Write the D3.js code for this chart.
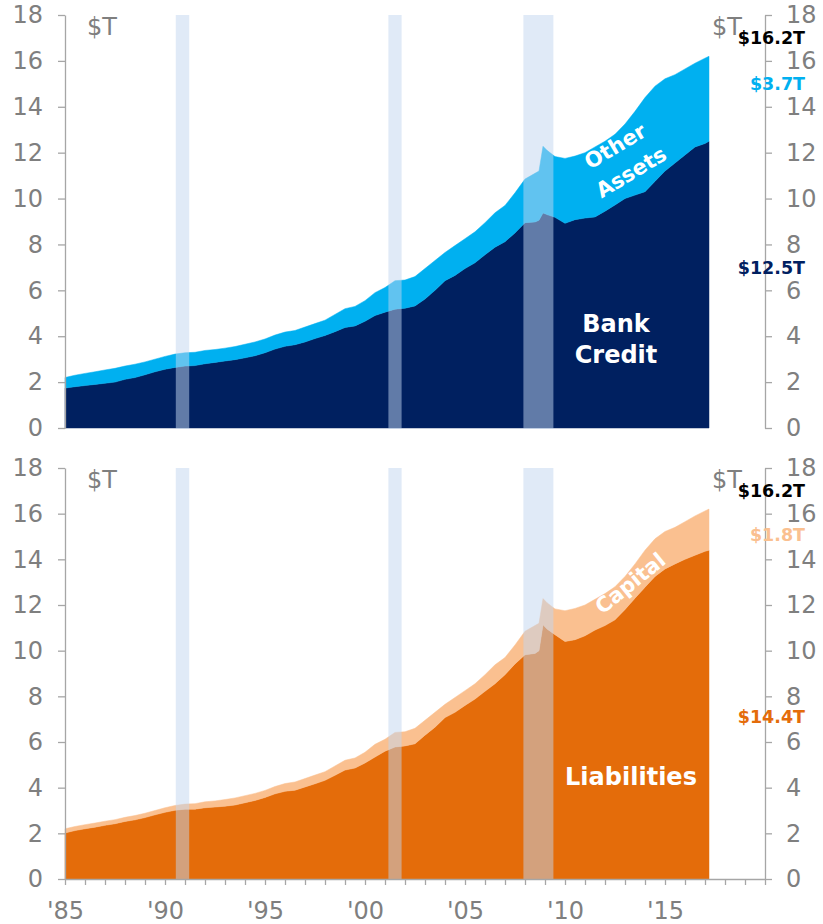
<!DOCTYPE html>
<html>
<head>
<meta charset="utf-8">
<script src="https://cdn.jsdelivr.net/npm/d3@7/dist/d3.min.js"></script>
<style>
  body { margin: 0; background: #fff; }
  svg { display: block; }
  text { font-family: "DejaVu Sans", Verdana, sans-serif; }
</style>
</head>
<body>
<svg id="chart" width="823" height="924"></svg>
<script>
// Commercial bank balance sheet, $ trillions (fractional years)
const dates = [
  1985.0, 1985.5, 1986.0, 1986.5, 1987.0, 1987.5, 1988.0, 1988.5, 1989.0, 1989.5,
  1990.0, 1990.5, 1991.0, 1991.5, 1992.0, 1992.5, 1993.0, 1993.5, 1994.0, 1994.5,
  1995.0, 1995.5, 1996.0, 1996.5, 1997.0, 1997.5, 1998.0, 1998.5, 1999.0, 1999.5,
  2000.0, 2000.5, 2001.0, 2001.5, 2002.0, 2002.5, 2003.0, 2003.5, 2004.0, 2004.5,
  2005.0, 2005.5, 2006.0, 2006.5, 2007.0, 2007.5, 2008.0, 2008.5, 2008.7, 2008.9,
  2009.1, 2009.5, 2010.0, 2010.5, 2011.0, 2011.5, 2012.0, 2012.5, 2013.0, 2013.5,
  2014.0, 2014.5, 2015.0, 2015.5, 2016.0, 2016.5, 2017.0, 2017.2
];

// Assets
const bankCredit = [
  1.74, 1.80, 1.85, 1.90, 1.95, 2.00, 2.12, 2.20, 2.32, 2.45,
  2.56, 2.64, 2.70, 2.72, 2.80, 2.86, 2.92, 2.98, 3.06, 3.15,
  3.28, 3.44, 3.56, 3.63, 3.75, 3.90, 4.03, 4.20, 4.38, 4.45,
  4.65, 4.90, 5.05, 5.18, 5.22, 5.32, 5.62, 6.00, 6.42, 6.65,
  6.95, 7.20, 7.55, 7.88, 8.12, 8.50, 8.95, 8.98, 9.05, 9.37,
  9.30, 9.18, 8.92, 9.08, 9.15, 9.20, 9.45, 9.72, 10.00, 10.15,
  10.30, 10.75, 11.20, 11.55, 11.90, 12.25, 12.40, 12.50
];
const otherAssets = [
  0.46, 0.50, 0.53, 0.55, 0.58, 0.60, 0.58, 0.58, 0.56, 0.55,
  0.56, 0.58, 0.58, 0.58, 0.58, 0.56, 0.56, 0.57, 0.59, 0.60,
  0.60, 0.61, 0.62, 0.62, 0.65, 0.65, 0.67, 0.75, 0.82, 0.85,
  0.90, 1.00, 1.07, 1.24, 1.23, 1.28, 1.33, 1.30, 1.23, 1.30,
  1.30, 1.35, 1.40, 1.50, 1.58, 1.75, 1.90, 2.12, 2.15, 2.91,
  2.80, 2.65, 2.83, 2.77, 2.85, 3.05, 3.05, 3.08, 3.25, 3.65,
  4.10, 4.15, 4.02, 3.85, 3.75, 3.65, 3.72, 3.70
];

// Liabilities and capital
const liabilities = [
  2.02, 2.12, 2.20, 2.27, 2.35, 2.42, 2.52, 2.59, 2.69, 2.81,
  2.92, 3.01, 3.06, 3.06, 3.12, 3.15, 3.19, 3.24, 3.34, 3.44,
  3.57, 3.73, 3.84, 3.89, 4.03, 4.17, 4.32, 4.54, 4.77, 4.86,
  5.08, 5.34, 5.60, 5.78, 5.83, 5.92, 6.30, 6.65, 7.07, 7.30,
  7.60, 7.88, 8.22, 8.55, 8.95, 9.42, 9.82, 9.88, 10.00, 11.13,
  10.95, 10.70, 10.40, 10.48, 10.65, 10.90, 11.10, 11.35, 11.80, 12.30,
  12.78, 13.25, 13.58, 13.80, 14.00, 14.18, 14.35, 14.40
];
const capital = [
  0.18, 0.18, 0.18, 0.18, 0.18, 0.18, 0.18, 0.19, 0.19, 0.19,
  0.20, 0.21, 0.22, 0.24, 0.26, 0.27, 0.29, 0.31, 0.31, 0.31,
  0.31, 0.32, 0.34, 0.36, 0.37, 0.38, 0.38, 0.41, 0.43, 0.44,
  0.47, 0.56, 0.52, 0.64, 0.62, 0.68, 0.65, 0.65, 0.58, 0.65,
  0.65, 0.67, 0.73, 0.83, 0.75, 0.83, 1.03, 1.22, 1.20, 1.15,
  1.15, 1.13, 1.35, 1.37, 1.35, 1.35, 1.40, 1.45, 1.45, 1.50,
  1.62, 1.65, 1.64, 1.60, 1.65, 1.72, 1.77, 1.80
];

// NBER recessions [start, end]
const recessions = [[1990.54, 1991.21], [2001.17, 2001.83], [2007.92, 2009.42]];

const yTickValues = [0, 2, 4, 6, 8, 10, 12, 14, 16, 18];
const xTickYears = [1985, 1990, 1995, 2000, 2005, 2010, 2015];
const xTickLabels = ["'85", "'90", "'95", "'00", "'05", "'10", "'15"];

const svg = d3.select("#chart");
const AXIS = "#a6a6a6", TEXT = "#7f7f7f";
const FONT = '"DejaVu Sans", Verdana, sans-serif';

const x = d3.scaleLinear().domain([1985, 2020]).range([65, 765]);

const fmt = v => "$" + d3.format(".1f")(v) + "T";

const panels = [
  {
    range: [428, 15],
    keys: ["bankCredit", "otherAssets"],
    values: { bankCredit, otherAssets },
    colors: ["#002060", "#00b0f0"],
    labelColors: ["#002060", "#00b0f0"],
    labelLevels: [7, 15],
    inner: [
      { lines: ["Bank", "Credit"], cx: 616, baseline: [331.5, 362.5], size: 24 },
      { lines: ["Other", "Assets"], rot: true, centers: [[615, 146], [631, 172]], angle: -31, size: 21 }
    ]
  },
  {
    range: [879, 468],
    keys: ["liabilities", "capital"],
    values: { liabilities, capital },
    colors: ["#e46c0a", "#fac090"],
    labelColors: ["#e46c0a", "#fac090"],
    labelLevels: [7.1, 15.1],
    inner: [
      { lines: ["Liabilities"], cx: 631, baseline: [785], size: 24 },
      { lines: ["Capital"], rot: true, centers: [[630, 583]], angle: -39, size: 21 }
    ],
    xAxis: true
  }
];

panels.forEach(p => {
  const y = d3.scaleLinear().domain([0, 18]).range(p.range);
  const g = svg.append("g");

  const rows = dates.map((d, i) => {
    const r = { date: d };
    p.keys.forEach(k => r[k] = p.values[k][i]);
    return r;
  });
  const stacked = d3.stack().keys(p.keys)(rows);

  const area = d3.area()
    .x(d => x(d.data.date))
    .y0(d => y(d[0]))
    .y1(d => y(d[1]));

  g.selectAll("path.layer")
    .data(stacked)
    .join("path")
    .attr("class", "layer")
    .attr("fill", (d, i) => p.colors[i])
    .attr("stroke", (d, i) => p.colors[i])
    .attr("stroke-width", 0.5)
    .attr("d", area);

  // recession shading over the areas
  g.selectAll("rect.rec")
    .data(recessions)
    .join("rect")
    .attr("class", "rec")
    .attr("x", d => x(d[0]))
    .attr("width", d => x(d[1]) - x(d[0]))
    .attr("y", y(18))
    .attr("height", y(0) - y(18) + 1)
    .attr("fill", "rgb(194,214,239)")
    .attr("fill-opacity", 0.5);

  // y axes
  const styleAxis = sel => {
    sel.select(".domain").attr("stroke", AXIS).attr("stroke-width", 1.3);
    sel.selectAll(".tick line").attr("stroke", AXIS).attr("stroke-width", 1.3);
    sel.selectAll(".tick text").attr("fill", TEXT).style("font-size", "24px").style("font-family", FONT);
  };
  g.append("g")
    .attr("transform", "translate(65,0)")
    .call(d3.axisLeft(y).tickValues(yTickValues).tickSize(7).tickSizeOuter(0).tickPadding(15))
    .call(styleAxis);
  g.append("g")
    .attr("transform", "translate(765,0)")
    .call(d3.axisRight(y).tickValues(yTickValues).tickSize(7).tickSizeOuter(0).tickPadding(14))
    .call(styleAxis);

  // unit labels
  g.append("text").attr("x", 87).attr("y", y(18) + 19.5)
    .attr("fill", TEXT).style("font-size", "24px").text("$T");
  g.append("text").attr("x", 742).attr("y", y(18) + 19.5).attr("text-anchor", "end")
    .attr("fill", TEXT).style("font-size", "24px").text("$T");

  // latest values at the right
  const last = dates.length - 1;
  const lastVals = p.keys.map(k => p.values[k][last]);
  const total = d3.sum(lastVals);
  const valueLabels = [
    { v: total, color: "#000000", level: 17 },
    { v: lastVals[1], color: p.labelColors[1], level: p.labelLevels[1] },
    { v: lastVals[0], color: p.labelColors[0], level: p.labelLevels[0] }
  ];
  g.selectAll("text.val")
    .data(valueLabels)
    .join("text")
    .attr("class", "val")
    .attr("x", 805)
    .attr("y", d => y(d.level) + 6.5)
    .attr("text-anchor", "end")
    .attr("fill", d => d.color)
    .style("font-size", "17.5px")
    .style("font-weight", "bold")
    .text(d => fmt(d.v));

  // series names inside the areas
  p.inner.forEach(lab => {
    if (lab.rot) {
      lab.lines.forEach((t, i) => {
        const [cx, cy] = lab.centers[i];
        g.append("text")
          .attr("transform", `translate(${cx},${cy}) rotate(${lab.angle})`)
          .attr("text-anchor", "middle")
          .attr("dy", "0.36em")
          .attr("fill", "#ffffff")
          .style("font-size", lab.size + "px")
          .style("font-weight", "bold")
          .text(t);
      });
    } else {
      lab.lines.forEach((t, i) => {
        g.append("text")
          .attr("x", lab.cx)
          .attr("y", lab.baseline[i])
          .attr("text-anchor", "middle")
          .attr("fill", "#ffffff")
          .style("font-size", lab.size + "px")
          .style("font-weight", "bold")
          .text(t);
      });
    }
  });

  if (p.xAxis) {
    const years = d3.range(1985, 2021);
    const labelOf = new Map(xTickYears.map((yr, i) => [yr, xTickLabels[i]]));
    g.append("g")
      .attr("transform", `translate(0,${y(0)})`)
      .call(d3.axisBottom(x).tickValues(years).tickSize(6).tickSizeOuter(0).tickPadding(17)
        .tickFormat(yr => labelOf.get(yr) || ""))
      .call(styleAxis);
  }
});
</script>
</body>
</html>
